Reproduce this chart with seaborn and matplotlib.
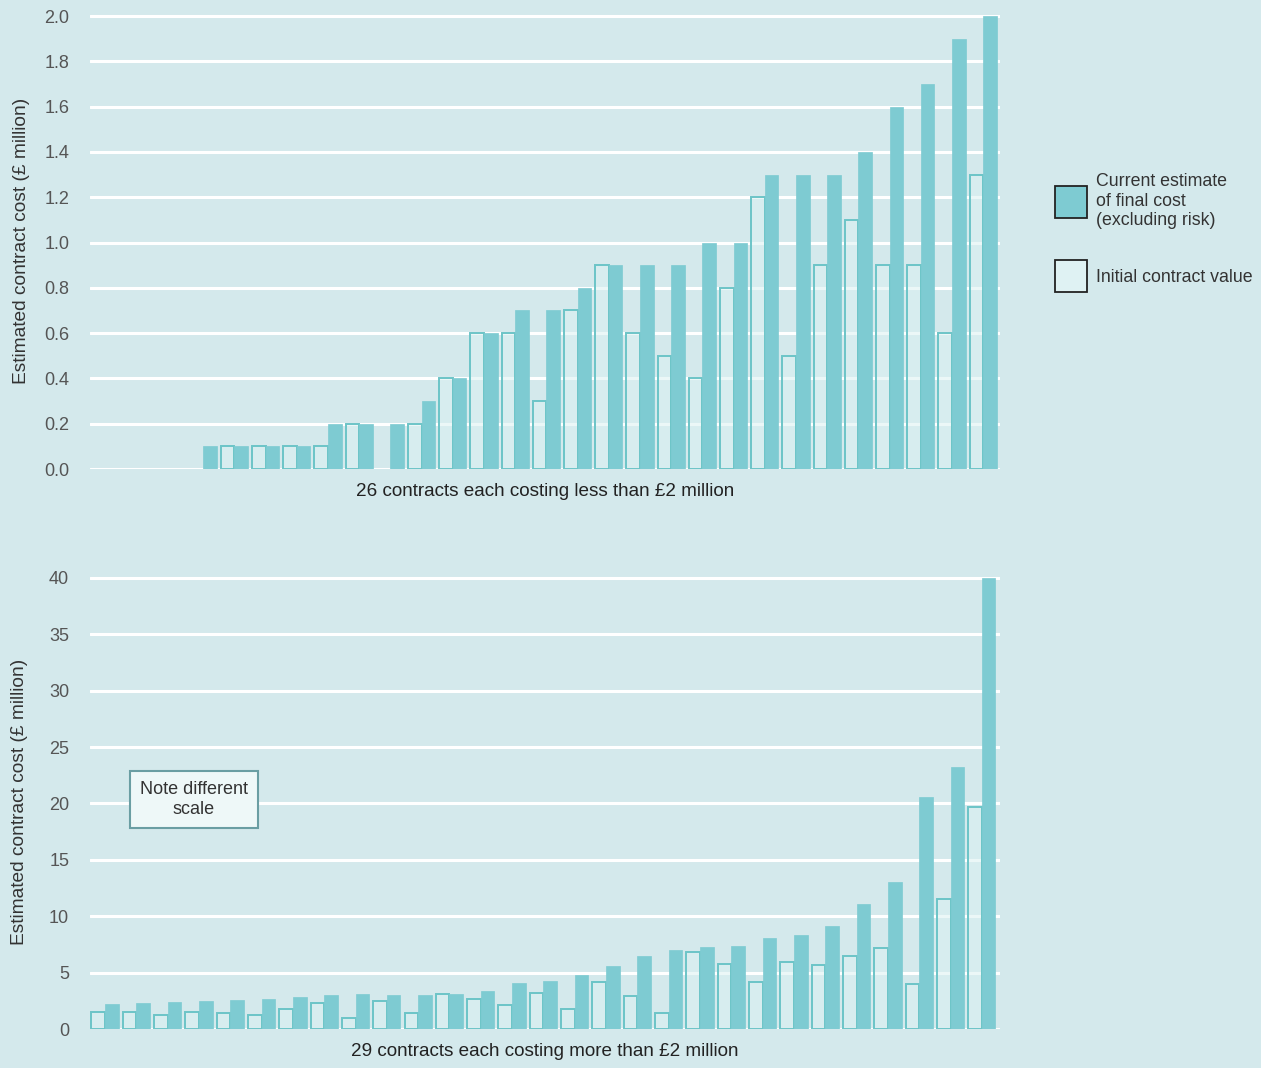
import numpy as np
import pandas as pd
import matplotlib.pyplot as plt
import seaborn as sns
from matplotlib.patches import Patch

# contracts under £2 million (values in £ million)
small_initial = [np.nan, 0.1, 0.1, 0.1, 0.1, 0.2, np.nan, 0.2, 0.4, 0.6, 0.6, 0.3, 0.7,
                 0.9, 0.6, 0.5, 0.4, 0.8, 1.2, 0.5, 0.9, 1.1, 0.9, 0.9, 0.6, 1.3]
small_current = [0.1, 0.1, 0.1, 0.1, 0.2, 0.2, 0.2, 0.3, 0.4, 0.6, 0.7, 0.7, 0.8,
                 0.9, 0.9, 0.9, 1.0, 1.0, 1.3, 1.3, 1.3, 1.4, 1.6, 1.7, 1.9, 2.0]

# contracts over £2 million
large_initial = [1.5, 1.5, 1.2, 1.5, 1.4, 1.2, 1.8, 2.3, 1.0, 2.5, 1.4, 3.1, 2.7, 2.1, 3.2,
                 1.8, 4.2, 2.9, 1.4, 6.8, 5.8, 4.2, 5.9, 5.7, 6.5, 7.2, 4.0, 11.5, 19.7]
large_current = [2.2, 2.3, 2.4, 2.5, 2.6, 2.7, 2.8, 3.0, 3.1, 3.0, 3.0, 3.1, 3.4, 4.1, 4.3,
                 4.8, 5.6, 6.5, 7.0, 7.3, 7.4, 8.1, 8.3, 9.1, 11.1, 13.0, 20.6, 23.2, 40.0]

top_ticks = [0.0, 0.2, 0.4, 0.6, 0.8, 1.0, 1.2, 1.4, 1.6, 1.8, 2.0]
bottom_ticks = [0, 5, 10, 15, 20, 25, 30, 35, 40]

bg = "#d4e9ec"
fill = "#7ecbd2"
light = (0.86, 0.95, 0.95, 0.55)
edge = "#6cc4c7"

sns.set_theme(style="white")
plt.rcParams['font.family'] = ['Liberation Sans', 'DejaVu Sans']


def long_table(initial, current):
    n = len(initial)
    ids = [str(i + 1) for i in range(n)]
    return pd.DataFrame({
        "contract": ids * 2,
        "type": ["Initial"] * n + ["Current"] * n,
        "value": list(initial) + list(current),
    })


def draw(ax, initial, current, xlim, ylim, ticks, fmt, xlabel, label_x):
    df = long_table(initial, current)
    sns.barplot(data=df, x="contract", y="value", hue="type",
                hue_order=["Initial", "Current"], palette=[fill, fill],
                width=0.87, gap=0.0, legend=False, ax=ax)
    for bar in ax.containers[0]:
        bar.set_facecolor(light)
        bar.set_edgecolor(edge)
        bar.set_linewidth(1.4)
    for bar in ax.containers[1]:
        bar.set_facecolor(fill)
        bar.set_edgecolor(fill)
        bar.set_linewidth(0.5)
    ax.set_facecolor(bg)
    ax.set_xlim(*xlim)
    ax.set_ylim(*ylim)
    ax.set_yticks(ticks)
    ax.set_yticklabels([fmt.format(t) for t in ticks])
    ax.set_xticks([])
    ax.yaxis.grid(True, color="white", linewidth=2.2)
    ax.set_axisbelow(True)
    for s in ax.spines.values():
        s.set_visible(False)
    ax.tick_params(axis="y", length=0, pad=15, labelsize=13, labelcolor="#555555")
    ax.set_ylabel("Estimated contract cost (£ million)", fontsize=13.8, color="#333333")
    ax.yaxis.set_label_coords(label_x, 0.5)
    ax.set_xlabel(xlabel, fontsize=13.6, color="#222222", labelpad=10)


fig = plt.figure(figsize=(12.61, 10.68), dpi=100)
fig.patch.set_facecolor(bg)

ax1 = fig.add_axes([90 / 1261, (1068 - 469) / 1068, 910 / 1261, (469 - 12) / 1068])
ax2 = fig.add_axes([90 / 1261, (1068 - 1029) / 1068, 910 / 1261, (1029 - 574.5) / 1068])

draw(ax1, small_initial, small_current, (-3.63, 25.54), (0, 2.018), top_ticks,
     "{:.1f}", "26 contracts each costing less than £2 million", (30 - 90) / 910)
draw(ax2, large_initial, large_current, (-0.48, 28.58), (0, 40.3), bottom_ticks,
     "{:d}", "29 contracts each costing more than £2 million", (28 - 90) / 910)

ax2.text(0.114, 0.505, "Note different\nscale", transform=ax2.transAxes,
         ha="center", va="center", fontsize=13, color="#333333",
         bbox=dict(boxstyle="square,pad=0.55", facecolor="#eef8f8",
                   edgecolor="#6a9ea3", linewidth=1.5))

handles = [Patch(facecolor=fill, edgecolor="#222222", linewidth=1.3),
           Patch(facecolor="#dff2f3", edgecolor="#222222", linewidth=1.3)]
labels = ["Current estimate\nof final cost\n(excluding risk)", "Initial contract value"]
fig.legend(handles, labels, loc="upper left", bbox_to_anchor=(1039 / 1261, 1 - 157 / 1068),
           frameon=False, fontsize=12.8, handlelength=1.8, handleheight=2.35,
           labelspacing=1.75, handletextpad=0.5, labelcolor="#333333")

fig.savefig("out.png", dpi=100, facecolor=bg)
